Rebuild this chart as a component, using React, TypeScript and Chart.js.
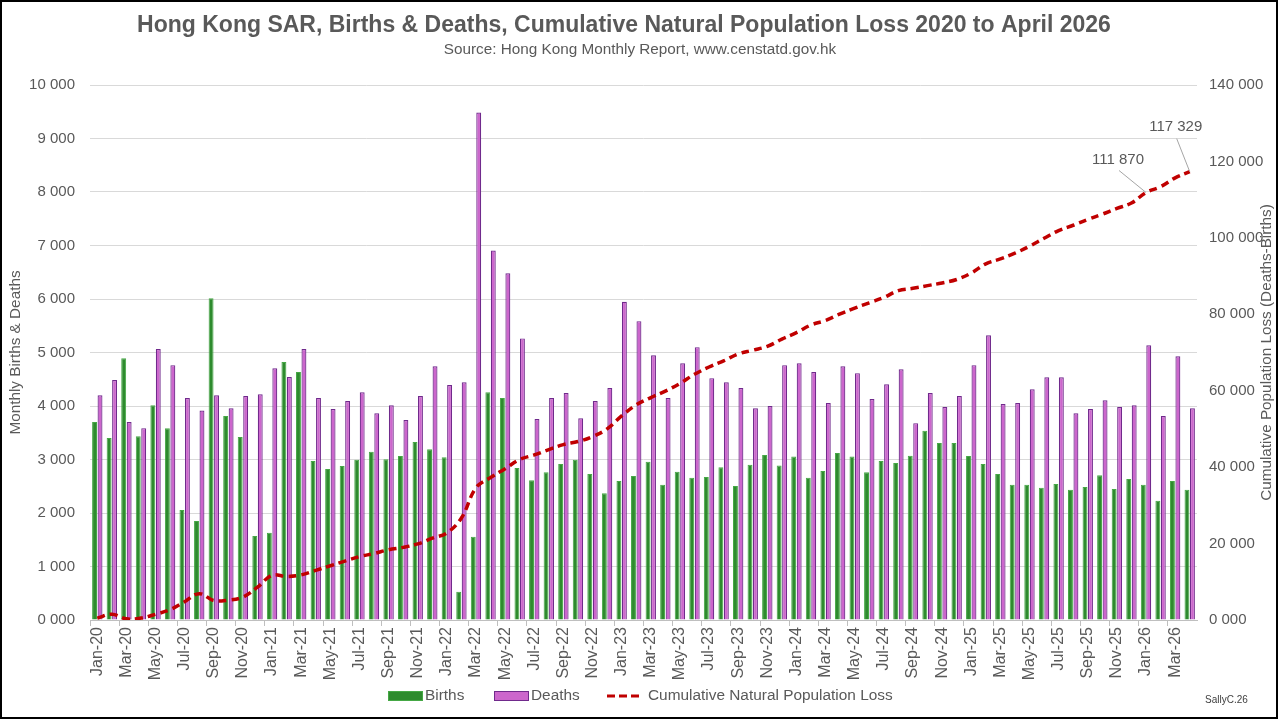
import React, { useEffect, useRef } from 'react';
import { Chart, registerables } from 'chart.js';

Chart.register(...registerables);

const TITLE = 'Hong Kong SAR, Births & Deaths, Cumulative Natural Population Loss 2020 to April 2026';
const SUBTITLE = 'Source: Hong Kong Monthly Report, www.censtatd.gov.hk';
const Y_TITLE = 'Monthly Births & Deaths';
const Y1_TITLE = 'Cumulative Population Loss (Deaths-Births)';
const SIGNATURE = 'SallyC.26';

const MONTHS = ['Jan', 'Feb', 'Mar', 'Apr', 'May', 'Jun', 'Jul', 'Aug', 'Sep', 'Oct', 'Nov', 'Dec'];
const YEARS = ['20', '21', '22', '23', '24', '25', '26'];
const CATEGORIES = YEARS.flatMap((y) => MONTHS.map((m) => `${m}-${y}`)).slice(0, 76);

const BIRTHS = [
  3700, 3400, 4893, 3436, 4014, 3586, 2057, 1850, 6014, 3814, 3421, 1571,
  1629, 4821, 4636, 2971, 2821, 2879, 2993, 3143, 3007, 3064, 3329, 3193,
  3043, 529, 1557, 4257, 4150, 2843, 2614, 2764, 2914, 2993, 2729, 2371,
  2600, 2693, 2957, 2529, 2771, 2657, 2671, 2857, 2507, 2900, 3086, 2886,
  3057, 2657, 2786, 3121, 3057, 2764, 2971, 2936, 3071, 3536, 3307, 3307,
  3064, 2914, 2729, 2529, 2529, 2471, 2543, 2436, 2486, 2707, 2450, 2636,
  2529, 2229, 2600, 2436,
];

const DEATHS = [
  4200, 4486, 3700, 3586, 5064, 4764, 4150, 3914, 4200, 3957, 4186, 4221,
  4707, 4543, 5064, 4150, 3943, 4093, 4257, 3864, 4014, 3736, 4186, 4743,
  4393, 4443, 9486, 6907, 6479, 5264, 3757, 4150, 4243, 3771, 4093, 4336,
  5950, 5586, 4950, 4150, 4800, 5100, 4521, 4443, 4336, 3957, 4000, 4764,
  4800, 4636, 4057, 4743, 4614, 4129, 4407, 4686, 3679, 4243, 3979, 4186,
  4764, 5321, 4036, 4057, 4314, 4536, 4536, 3864, 3943, 4107, 3979, 4014,
  5136, 3814, 4929, 3957,
];

const CUMULATIVE = [
  500, 1500, 300, 500, 1500, 2700, 4800, 6900, 5100, 5200, 6000, 8600,
  11700, 11400, 11800, 13000, 14200, 15400, 16600, 17400, 18400, 19000, 19900, 21400,
  22800, 26700, 34600, 37300, 39600, 42000, 43200, 44600, 45900, 46700, 48000, 50000,
  53400, 56300, 58200, 59900, 61900, 64300, 66200, 67800, 69600, 70600, 71600, 73500,
  75200, 77200, 78400, 80100, 81600, 83000, 84400, 86200, 86800, 87500, 88200, 89100,
  90800, 93200, 94500, 96000, 97800, 99900, 101900, 103300, 104800, 106200, 107700, 109100,
  111870, 113400, 115700, 117329,
];

// indices of labelled points on the cumulative line
const LABELLED = [72, 75];

const FONT = '"Liberation Sans", Arial, sans-serif';
const TEXT = '#595959';
const GREEN = '#2e8b2e';
const GREEN_EDGE = '#45a845';
const PURPLE = '#cc66cc';
const PURPLE_EDGE = '#702a8c';
const RED = '#c00000';

const fmt = (v: number) => {
  const th = Math.floor(v / 1000);
  const rest = String(Math.round(v % 1000)).padStart(3, '0');
  return `${th} ${rest}`;
};

const decor = {
  id: 'decor',
  beforeDraw(chart: any) {
    const { ctx, width, height } = chart;
    ctx.save();
    ctx.fillStyle = '#ffffff';
    ctx.fillRect(0, 0, width, height);
    ctx.restore();
  },
  afterDraw(chart: any) {
    const ctx: CanvasRenderingContext2D = chart.ctx;
    const { top, bottom } = chart.chartArea;
    ctx.save();
    ctx.fillStyle = TEXT;
    ctx.textAlign = 'center';
    ctx.textBaseline = 'middle';
    ctx.font = `bold 23px ${FONT}`;
    ctx.fillText(TITLE, 624, 26);
    ctx.font = `15.3px ${FONT}`;
    ctx.fillText(SUBTITLE, 640, 50);

    const cy = (top + bottom) / 2;
    ctx.font = `15.3px ${FONT}`;
    ctx.save();
    ctx.translate(16, cy);
    ctx.rotate(-Math.PI / 2);
    ctx.fillText(Y_TITLE, 0, 0);
    ctx.restore();
    ctx.save();
    ctx.translate(1267, cy);
    ctx.rotate(-Math.PI / 2);
    ctx.fillText(Y1_TITLE, 0, 0);
    ctx.restore();

    // legend
    const ly = 696;
    ctx.textAlign = 'left';
    ctx.font = `15.4px ${FONT}`;
    ctx.fillStyle = GREEN;
    ctx.fillRect(388, ly - 5, 35, 10);
    ctx.strokeStyle = GREEN_EDGE;
    ctx.lineWidth = 1;
    ctx.strokeRect(388.5, ly - 4.5, 34, 9);
    ctx.fillStyle = TEXT;
    ctx.fillText('Births', 425, ly);

    ctx.fillStyle = PURPLE;
    ctx.fillRect(494, ly - 5, 35, 10);
    ctx.strokeStyle = PURPLE_EDGE;
    ctx.strokeRect(494.5, ly - 4.5, 34, 9);
    ctx.fillStyle = TEXT;
    ctx.fillText('Deaths', 531, ly);

    ctx.strokeStyle = RED;
    ctx.lineWidth = 3;
    ctx.setLineDash([8, 4]);
    ctx.beginPath();
    ctx.moveTo(607, ly);
    ctx.lineTo(640, ly);
    ctx.stroke();
    ctx.setLineDash([]);
    ctx.fillStyle = TEXT;
    ctx.fillText('Cumulative Natural Population Loss', 648, ly);

    ctx.font = `10px ${FONT}`;
    ctx.fillStyle = '#404040';
    ctx.fillText(SIGNATURE, 1205, 700);

    // data labels with leader lines
    const meta = chart.getDatasetMeta(2);
    const offsets = [
      { lx: -28, ly: -33, sx: -27, sy: -22 },
      { lx: -14, ly: -45, sx: -13, sy: -33 },
    ];
    LABELLED.forEach((idx, k) => {
      const pt = meta.data[idx];
      if (!pt) return;
      const o = offsets[k];
      ctx.strokeStyle = '#a6a6a6';
      ctx.lineWidth = 1;
      ctx.beginPath();
      ctx.moveTo(pt.x + o.sx, pt.y + o.sy);
      ctx.lineTo(pt.x, pt.y);
      ctx.stroke();
      ctx.fillStyle = TEXT;
      ctx.font = `15px ${FONT}`;
      ctx.textAlign = 'center';
      ctx.fillText(fmt(CUMULATIVE[idx]), pt.x + o.lx, pt.y + o.ly);
    });

    // frame
    ctx.strokeStyle = '#000000';
    ctx.lineWidth = 2;
    ctx.strokeRect(1, 1, 1276, 717);
    ctx.restore();
  },
};

export default function App() {
  const ref = useRef<HTMLCanvasElement | null>(null);

  useEffect(() => {
    if (!ref.current) return;
    const chart = new Chart(ref.current, {
      type: 'bar',
      data: {
        labels: CATEGORIES,
        datasets: [
          {
            label: 'Births',
            data: BIRTHS,
            backgroundColor: GREEN,
            borderColor: GREEN_EDGE,
            borderWidth: 1,
            yAxisID: 'y',
            order: 1,
            barPercentage: 0.9,
            categoryPercentage: 0.75,
          },
          {
            label: 'Deaths',
            data: DEATHS,
            backgroundColor: PURPLE,
            borderColor: PURPLE_EDGE,
            borderWidth: 1.2,
            yAxisID: 'y',
            order: 2,
            barPercentage: 0.9,
            categoryPercentage: 0.75,
          },
          {
            type: 'line',
            label: 'Cumulative Natural Population Loss',
            data: CUMULATIVE,
            borderColor: RED,
            backgroundColor: RED,
            borderWidth: 3.5,
            borderDash: [8, 5],
            pointRadius: 0,
            tension: 0.4,
            fill: false,
            yAxisID: 'y1',
            order: 0,
          } as any,
        ],
      },
      options: {
        responsive: true,
        maintainAspectRatio: false,
        animation: false,
        devicePixelRatio: 1,
        layout: { padding: { top: 85, left: 0, right: 0, bottom: 0 } },
        plugins: {
          legend: { display: false },
          title: { display: false },
          tooltip: { enabled: false },
        },
        scales: {
          x: {
            offset: true,
            afterFit: (s: any) => {
              s.height = 100;
            },
            grid: {
              display: true,
              offset: true,
              drawOnChartArea: false,
              drawTicks: true,
              tickLength: 6,
              color: (c: any) => (c.index % 2 === 0 ? '#bfbfbf' : 'rgba(0,0,0,0)'),
            },
            border: { display: true, color: '#bfbfbf' },
            ticks: {
              autoSkip: false,
              maxRotation: 90,
              minRotation: 90,
              padding: 1,
              color: TEXT,
              font: { family: FONT, size: 16 },
              callback: (_v: any, i: number) => (i % 2 === 0 ? CATEGORIES[i] : ''),
            },
          },
          y: {
            position: 'left',
            min: 0,
            max: 10000,
            afterFit: (s: any) => {
              s.width = 90;
            },
            grid: { color: '#d9d9d9', drawTicks: false },
            border: { display: false },
            ticks: {
              stepSize: 1000,
              padding: 15,
              color: TEXT,
              font: { family: FONT, size: 15 },
              callback: (v: any) => fmt(Number(v)),
            },
          },
          y1: {
            position: 'right',
            min: 0,
            max: 140000,
            afterFit: (s: any) => {
              s.width = 83;
            },
            grid: { drawOnChartArea: false, drawTicks: false },
            border: { display: false },
            ticks: {
              stepSize: 20000,
              padding: 12,
              color: TEXT,
              font: { family: FONT, size: 15 },
              callback: (v: any) => fmt(Number(v)),
            },
          },
        },
      } as any,
      plugins: [decor],
    });
    return () => chart.destroy();
  }, []);

  return (
    <div style={{ position: 'fixed', left: 0, top: 0, width: 1280, height: 720 }}>
      <canvas ref={ref} />
    </div>
  );
}
